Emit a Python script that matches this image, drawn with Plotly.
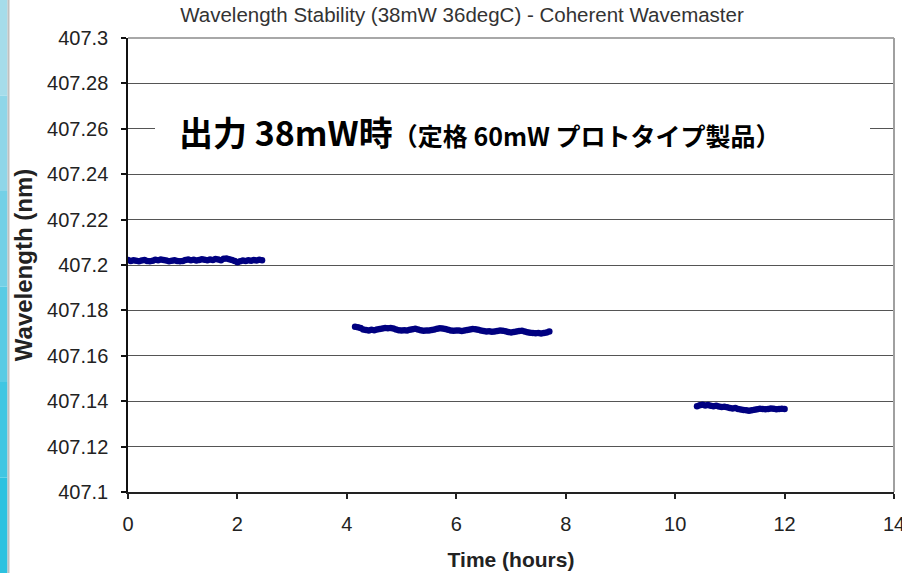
import plotly.graph_objects as go

# ---------------- data ----------------
t1 = [0.00, 0.05, 0.10, 0.15, 0.20, 0.25, 0.30, 0.35, 0.40, 0.45,
      0.50, 0.55, 0.60, 0.65, 0.70, 0.75, 0.80, 0.85, 0.90, 0.95,
      1.00, 1.05, 1.10, 1.15, 1.20, 1.25, 1.30, 1.35, 1.40, 1.45,
      1.50, 1.55, 1.60, 1.65, 1.70, 1.75, 1.80, 1.85, 1.90, 1.95,
      2.00, 2.05, 2.10, 2.15, 2.20, 2.25, 2.30, 2.35, 2.40, 2.45]
w1 = [407.2022, 407.2018, 407.2021, 407.2019, 407.2017, 407.2020, 407.2022, 407.2018, 407.2016, 407.2019,
      407.2023, 407.2021, 407.2024, 407.2022, 407.2020, 407.2017, 407.2019, 407.2021, 407.2018, 407.2016,
      407.2018, 407.2022, 407.2024, 407.2021, 407.2023, 407.2020, 407.2022, 407.2025, 407.2023, 407.2021,
      407.2024, 407.2022, 407.2026, 407.2024, 407.2021, 407.2027, 407.2029, 407.2025, 407.2022, 407.2018,
      407.2012, 407.2016, 407.2020, 407.2018, 407.2021, 407.2019, 407.2022, 407.2020, 407.2023, 407.2021]

t2 = [4.15, 4.20, 4.25, 4.30, 4.35, 4.40, 4.45, 4.50, 4.55, 4.60,
      4.65, 4.70, 4.75, 4.80, 4.85, 4.90, 4.95, 5.00, 5.05, 5.10,
      5.15, 5.20, 5.25, 5.30, 5.35, 5.40, 5.45, 5.50, 5.55, 5.60,
      5.65, 5.70, 5.75, 5.80, 5.85, 5.90, 5.95, 6.00, 6.05, 6.10,
      6.15, 6.20, 6.25, 6.30, 6.35, 6.40, 6.45, 6.50, 6.55, 6.60,
      6.65, 6.70, 6.75, 6.80, 6.85, 6.90, 6.95, 7.00, 7.05, 7.10,
      7.15, 7.20, 7.25, 7.30, 7.35, 7.40, 7.45, 7.50, 7.55, 7.60,
      7.65, 7.70]
w2 = [407.1728, 407.1726, 407.1722, 407.1716, 407.1714, 407.1712, 407.1715, 407.1713, 407.1716, 407.1718,
      407.1720, 407.1722, 407.1721, 407.1723, 407.1720, 407.1716, 407.1713, 407.1711, 407.1713, 407.1712,
      407.1715, 407.1717, 407.1719, 407.1716, 407.1713, 407.1710, 407.1712, 407.1711, 407.1714, 407.1716,
      407.1719, 407.1721, 407.1720, 407.1718, 407.1715, 407.1712, 407.1710, 407.1712, 407.1711, 407.1709,
      407.1711, 407.1714, 407.1716, 407.1718, 407.1717, 407.1715, 407.1712, 407.1709, 407.1707, 407.1708,
      407.1706, 407.1707, 407.1709, 407.1711, 407.1710, 407.1708, 407.1705, 407.1703, 407.1705, 407.1707,
      407.1709, 407.1710, 407.1707, 407.1704, 407.1701, 407.1700, 407.1699, 407.1700, 407.1698, 407.1700,
      407.1703, 407.1707]

t3 = [10.40, 10.45, 10.50, 10.55, 10.60, 10.65, 10.70, 10.75, 10.80, 10.85,
      10.90, 10.95, 11.00, 11.05, 11.10, 11.15, 11.20, 11.25, 11.30, 11.35,
      11.40, 11.45, 11.50, 11.55, 11.60, 11.65, 11.70, 11.75, 11.80, 11.85,
      11.90, 11.95, 12.00]
w3 = [407.1378, 407.1382, 407.1384, 407.1381, 407.1383, 407.1380, 407.1378, 407.1380, 407.1377, 407.1374,
      407.1376, 407.1373, 407.1370, 407.1368, 407.1370, 407.1366, 407.1363, 407.1361, 407.1360, 407.1358,
      407.1360, 407.1362, 407.1365, 407.1367, 407.1366, 407.1364, 407.1366, 407.1368, 407.1367, 407.1365,
      407.1366, 407.1367, 407.1366]

y_tickvals = [407.1, 407.12, 407.14, 407.16, 407.18, 407.2, 407.22, 407.24, 407.26, 407.28, 407.3]
y_ticktext = ["407.1", "407.12", "407.14", "407.16", "407.18", "407.2", "407.22", "407.24", "407.26", "407.28", "407.3"]
x_tickvals = [0, 2, 4, 6, 8, 10, 12, 14]
x_ticktext = ["0", "2", "4", "6", "8", "10", "12", "14"]

title_text = "Wavelength Stability (38mW 36degC) - Coherent Wavemaster"
note_big = "出力 38mW時"
note_small = "（定格 60mW プロトタイプ製品）"

# ---------------- figure ----------------
W, H = 902, 573
L, R, T, B = 128, 8, 38, 81
pw, ph = W - L - R, H - T - B


def px(xp):
    return (xp - L) / pw


def py(yp):
    return 1 - (yp - T) / ph


fig = go.Figure()
for tx, wy in [(t1, w1), (t2, w2), (t3, w3)]:
    fig.add_trace(go.Scatter(x=tx, y=wy, mode="markers",
                             marker=dict(color="#000080", size=6.5, line=dict(width=0)),
                             showlegend=False, hoverinfo="skip"))

shapes = []
# left slide strip
strip_cols = ["#a6dcea", "#8fd6e8", "#74d0e6", "#5acbe4", "#40c6e2", "#2cc2e0"]
n = len(strip_cols)
for i, c in enumerate(strip_cols):
    shapes.append(dict(type="rect", xref="paper", yref="paper",
                       x0=px(0), x1=px(7.5), y0=py(H * (i + 1) / n), y1=py(H * i / n),
                       fillcolor=c, line=dict(width=0), layer="above"))
shapes.append(dict(type="rect", xref="paper", yref="paper",
                   x0=px(7.5), x1=px(9.5), y0=py(H), y1=py(0),
                   fillcolor="#c0c0c0", line=dict(width=0), layer="above"))
# white mask behind the note
shapes.append(dict(type="rect", xref="paper", yref="paper",
                   x0=px(155), x1=px(870), y0=py(154), y1=py(108),
                   fillcolor="white", line=dict(width=0), layer="above"))
# top & right border
shapes.append(dict(type="line", xref="paper", yref="paper", x0=0, x1=1, y0=1, y1=1,
                   line=dict(color="#a8a8a8", width=2), layer="above"))
shapes.append(dict(type="line", xref="paper", yref="paper", x0=1, x1=1, y0=0, y1=1,
                   line=dict(color="#a0a0a0", width=2), layer="above"))

fig.update_layout(
    width=W, height=H,
    margin=dict(l=L, r=R, t=T, b=B, autoexpand=False),
    paper_bgcolor="white", plot_bgcolor="white",
    font=dict(family="Liberation Sans, Arial, sans-serif", color="#222"),
    title=dict(text=title_text, xref="container", x=462 / W, xanchor="center",
               yref="container", y=1 - 15 / H, yanchor="middle",
               font=dict(size=20.5, color="#333", family="Liberation Sans, Arial, sans-serif")),
    shapes=shapes,
    annotations=[dict(
        xref="paper", yref="paper", x=px(177), y=py(131), xanchor="left", yanchor="middle",
        text=("<b><span style='font-size:34px'>" + note_big + "</span>"
              "<span style='font-size:25px'>" + note_small + "</span></b>"),
        showarrow=False,
        font=dict(family="Noto Sans CJK JP", color="black", size=25),
    )],
)

fig.update_xaxes(range=[0, 14], tickvals=x_tickvals, ticktext=x_ticktext,
                 showgrid=False, zeroline=False, showline=True, linecolor="#222", linewidth=1.5,
                 ticks="outside", ticklen=5, tickcolor="#222", tickwidth=1.5,
                 ticklabelstandoff=8, ticklabeloverflow="allow", automargin=False,
                 tickfont=dict(size=20, color="#222"),
                 title=dict(text="<b>Time (hours)</b>", font=dict(size=21, color="#222"), standoff=19))
fig.update_yaxes(range=[407.1, 407.3], tickvals=y_tickvals, ticktext=y_ticktext,
                 showgrid=True, gridcolor="#555", gridwidth=1.2, zeroline=False,
                 showline=True, linecolor="#111", linewidth=1.5,
                 ticks="outside", ticklen=5, tickcolor="#111", tickwidth=1.5,
                 ticklabelstandoff=9, automargin=False,
                 tickfont=dict(size=20, color="#222"),
                 title=dict(text="<b>Wavelength (nm)</b>", font=dict(size=24, color="#222"), standoff=8))

fig.write_html("out.html", config={"displayModeBar": False},
               post_script="document.body.style.margin='0px';")
